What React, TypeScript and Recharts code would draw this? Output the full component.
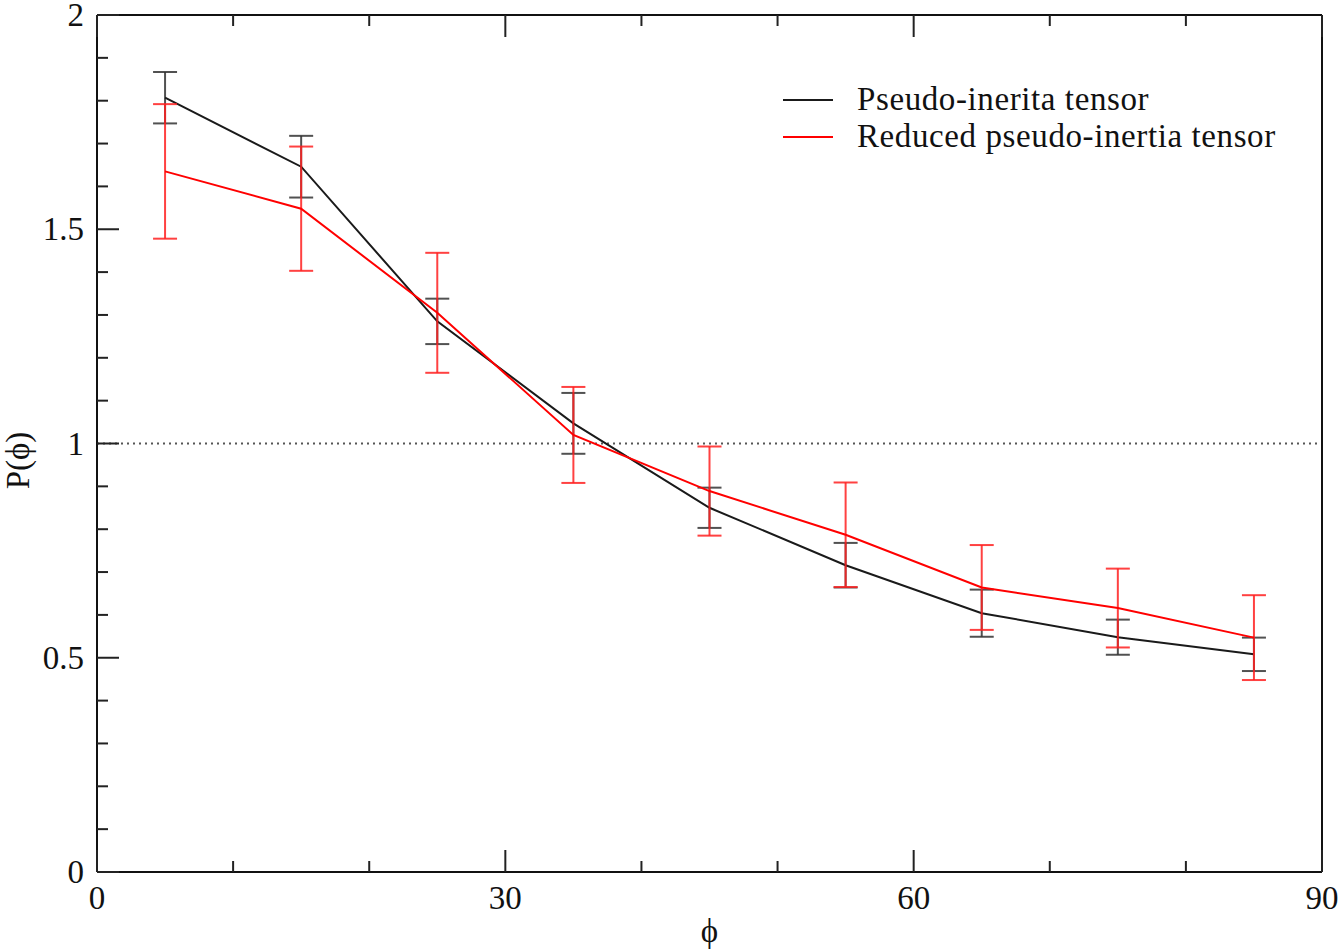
import { ErrorBar, Line, LineChart, ReferenceLine, XAxis, YAxis } from "recharts";

const PHI = [5, 15, 25, 35, 45, 55, 65, 75, 85];
const PSEUDO = [1.807, 1.646, 1.285, 1.047, 0.85, 0.716, 0.604, 0.548, 0.508];
const PSEUDO_ERR = [0.06, 0.072, 0.053, 0.071, 0.047, 0.052, 0.055, 0.041, 0.039];
const REDUCED = [1.635, 1.548, 1.305, 1.02, 0.889, 0.787, 0.664, 0.616, 0.547];
const REDUCED_ERR = [0.157, 0.145, 0.14, 0.112, 0.104, 0.122, 0.099, 0.092, 0.099];

const X_TICKS = [0, 10, 20, 30, 40, 50, 60, 70, 80, 90];
const Y_TICKS = [0, 0.1, 0.2, 0.3, 0.4, 0.5, 0.6, 0.7, 0.8, 0.9, 1, 1.1, 1.2, 1.3, 1.4, 1.5, 1.6, 1.7, 1.8, 1.9, 2];

const SERIES_NAMES = ["Pseudo-inerita tensor", "Reduced pseudo-inertia tensor"];
const SERIES_COLORS = ["#1a1a1a", "#ff0000"];

const data = PHI.map((phi, i) => ({
  phi,
  pseudo: PSEUDO[i],
  pseudoErr: PSEUDO_ERR[i],
  reduced: REDUCED[i],
  reducedErr: REDUCED_ERR[i],
}));

const FONT = "'Liberation Serif', 'DejaVu Serif', serif";
const TICK_COLOR = "#222";
const MAJOR = 22;
const MINOR = 11;

const isMajorX = (v: number) => v % 30 === 0;
const isMajorY = (v: number) => Math.abs(v * 2 - Math.round(v * 2)) < 1e-6;

function BottomTick({ x, y, payload }: any) {
  const v = payload.value;
  const major = isMajorX(v);
  return (
    <g>
      <line x1={x} x2={x} y1={y} y2={y - (major ? MAJOR : MINOR)} stroke={TICK_COLOR} strokeWidth={2} />
      {major && (
        <text x={x} y={y + 37} textAnchor="middle" fontFamily={FONT} fontSize={33} fill="#111">
          {v}
        </text>
      )}
    </g>
  );
}

function TopTick({ x, y, payload }: any) {
  const major = isMajorX(payload.value);
  return <line x1={x} x2={x} y1={y} y2={y + (major ? MAJOR : MINOR)} stroke={TICK_COLOR} strokeWidth={2} />;
}

function LeftTick({ x, y, payload }: any) {
  const v = payload.value;
  const major = isMajorY(v);
  return (
    <g>
      <line x1={x} x2={x + (major ? MAJOR : MINOR)} y1={y} y2={y} stroke={TICK_COLOR} strokeWidth={2} />
      {major && (
        <text x={x - 13} y={y + 11} textAnchor="end" fontFamily={FONT} fontSize={33} fill="#111">
          {String(Number(v.toFixed(1)))}
        </text>
      )}
    </g>
  );
}

function RightTick({ x, y, payload }: any) {
  const major = isMajorY(payload.value);
  return <line x1={x} x2={x - (major ? MAJOR : MINOR)} y1={y} y2={y} stroke={TICK_COLOR} strokeWidth={2} />;
}

function LegendBox() {
  return (
    <div
      style={{
        position: "absolute",
        top: 81,
        left: 783,
        fontFamily: FONT,
        fontSize: 33,
        letterSpacing: 0.6,
        color: "#111",
        lineHeight: "37px",
      }}
    >
      {SERIES_NAMES.map((name, i) => (
        <div key={name} style={{ display: "flex", alignItems: "center", whiteSpace: "nowrap" }}>
          <svg width={74} height={37}>
            <line x1={0} x2={50} y1={19} y2={19} stroke={SERIES_COLORS[i]} strokeWidth={2} />
          </svg>
          <span>{name}</span>
        </div>
      ))}
    </div>
  );
}

export default function App() {
  return (
    <div style={{ position: "absolute", left: 0, top: 0, width: 1340, height: 951, background: "#fff" }}>
      <LineChart width={1340} height={951} data={data} margin={{ top: 0, right: 0, bottom: 0, left: 0 }}>
        <XAxis
          xAxisId="bottom"
          dataKey="phi"
          type="number"
          domain={[0, 90]}
          ticks={X_TICKS}
          interval={0}
          height={79}
          tickSize={0}
          tickMargin={0}
          tickLine={false}
          axisLine={{ stroke: "#111", strokeWidth: 2 }}
          tick={<BottomTick />}
          label={{
            content: ({ viewBox }: any) => (
              <text
                x={viewBox.x + viewBox.width / 2}
                y={viewBox.y + 70}
                textAnchor="middle"
                fontFamily={FONT}
                fontSize={33}
                fill="#111"
              >
                ϕ
              </text>
            ),
          }}
        />
        <XAxis
          xAxisId="top"
          orientation="top"
          dataKey="phi"
          type="number"
          domain={[0, 90]}
          ticks={X_TICKS}
          interval={0}
          height={15}
          tickSize={0}
          tickMargin={0}
          tickLine={false}
          axisLine={{ stroke: "#111", strokeWidth: 2 }}
          tick={<TopTick />}
        />
        <YAxis
          yAxisId="left"
          type="number"
          domain={[0, 2]}
          ticks={Y_TICKS}
          interval={0}
          width={97}
          tickSize={0}
          tickMargin={0}
          tickLine={false}
          axisLine={{ stroke: "#111", strokeWidth: 2 }}
          tick={<LeftTick />}
          label={{
            content: ({ viewBox }: any) => {
              const cx = viewBox.x + 18;
              const cy = viewBox.y + viewBox.height / 2 + 17;
              return (
                <text
                  x={cx}
                  y={cy}
                  transform={`rotate(-90 ${cx} ${cy})`}
                  textAnchor="middle"
                  dominantBaseline="central"
                  fontFamily={FONT}
                  fontSize={33}
                  fill="#111"
                >
                  P(ϕ)
                </text>
              );
            },
          }}
        />
        <YAxis
          yAxisId="right"
          orientation="right"
          type="number"
          domain={[0, 2]}
          ticks={Y_TICKS}
          interval={0}
          width={18}
          tickSize={0}
          tickMargin={0}
          tickLine={false}
          axisLine={{ stroke: "#111", strokeWidth: 2 }}
          tick={<RightTick />}
        />
        <ReferenceLine
          xAxisId="bottom"
          yAxisId="left"
          y={1}
          stroke="#555"
          strokeWidth={2}
          strokeDasharray="2 4"
        />
        <Line
          xAxisId="bottom"
          yAxisId="left"
          dataKey="pseudo"
          name={SERIES_NAMES[0]}
          stroke={SERIES_COLORS[0]}
          strokeWidth={2}
          dot={false}
          isAnimationActive={false}
        >
          <ErrorBar dataKey="pseudoErr" direction="y" width={12} stroke="#333" strokeWidth={2} strokeOpacity={0.85} isAnimationActive={false} />
        </Line>
        <Line
          xAxisId="bottom"
          yAxisId="left"
          dataKey="reduced"
          name={SERIES_NAMES[1]}
          stroke={SERIES_COLORS[1]}
          strokeWidth={2}
          dot={false}
          isAnimationActive={false}
        >
          <ErrorBar dataKey="reducedErr" direction="y" width={12} stroke="#ff2020" strokeWidth={2} strokeOpacity={0.85} isAnimationActive={false} />
        </Line>
      </LineChart>
      <LegendBox />
    </div>
  );
}
